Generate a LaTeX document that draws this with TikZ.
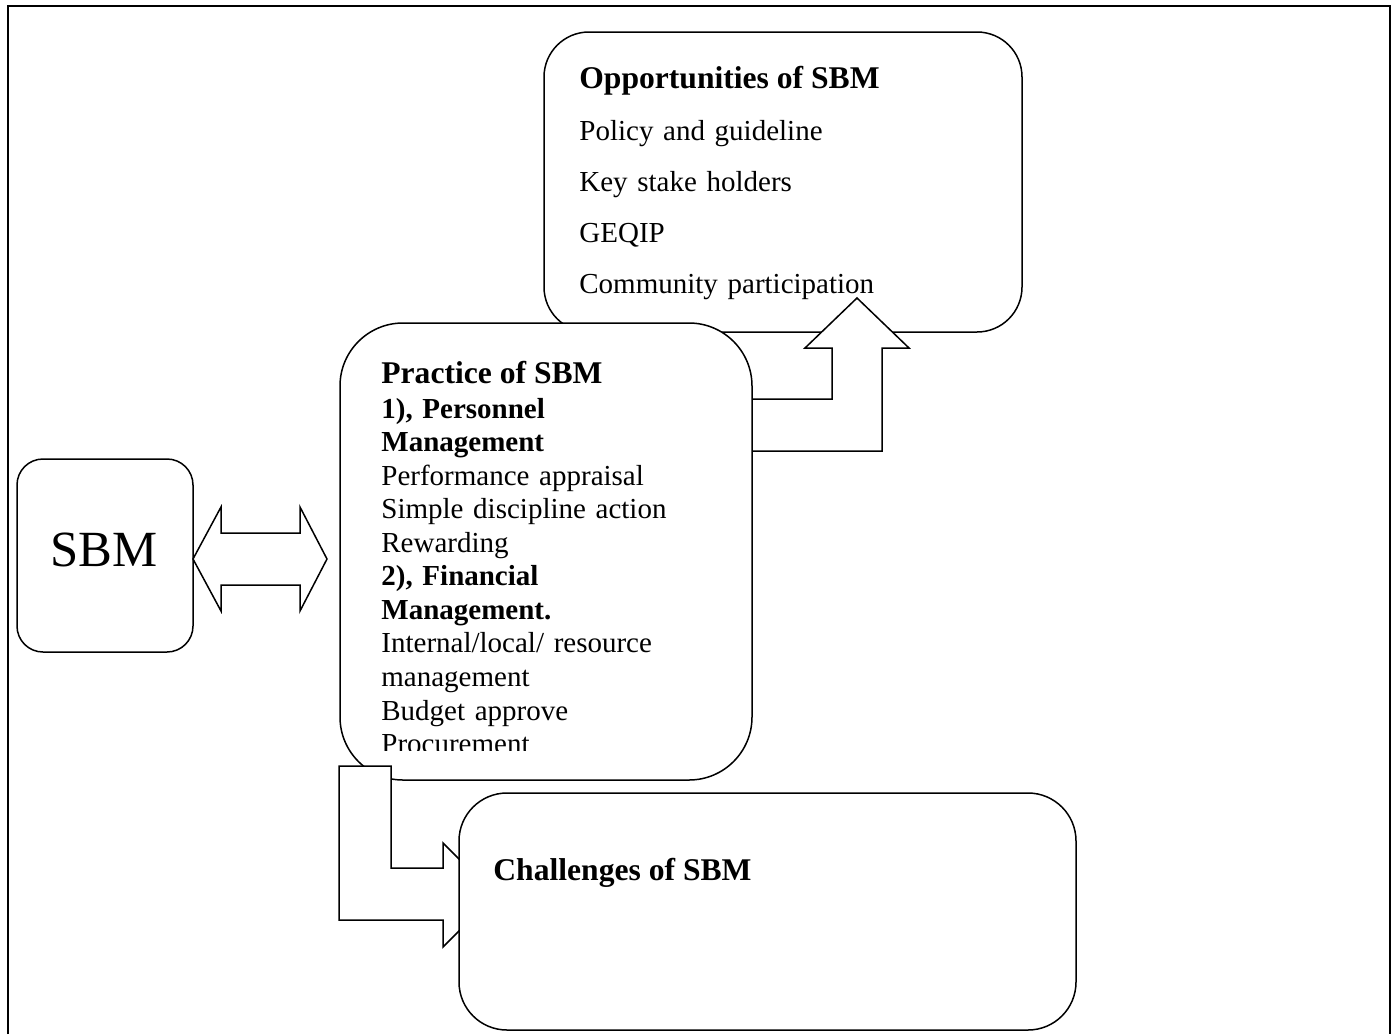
\documentclass[tikz,border=0pt]{standalone}
\usepackage{fontspec}
\setmainfont{Liberation Serif}
\begin{document}
\begin{tikzpicture}[x=0.5pt,y=-0.5pt,
    box/.style={draw,fill=white,line width=0.75pt,rounded corners=#1,inner sep=0pt},
    box/.default=22pt,
    blockarrow/.style={draw,fill=white,line width=0.75pt,line join=miter},
    head/.style={anchor=base west,inner sep=0pt,font=\fontsize{15.8}{18}\selectfont\bfseries},
    body/.style={anchor=base west,inner sep=0pt,text width=#1,align=left}]
    \useasboundingbox (0,0) rectangle (1397,1034);
    \draw[line width=1.3pt] (8,1034) -- (8,6) -- (1390,6) -- (1390,1034);

    % opportunities
    \node[box=22.5pt,minimum width=239pt,minimum height=150pt] (opp) at (783,182) {};
    \node[head] (opphead) at (579,88) {Opportunities of SBM};
    \node[body=220pt,font=\fontsize{14.5}{25.5}\selectfont] (opplist) at (579,140)
        {Policy and guideline\\Key stake holders\\GEQIP\\Community participation};

    % practice -> opportunities
    \draw[blockarrow] (740,399) -- (832,399) -- (832,348) -- (805,348) -- (857,298)
        -- (909,348) -- (882,348) -- (882,451) -- (740,451) -- cycle;

    % practice
    \node[box=31.5pt,minimum width=206pt,minimum height=228.5pt] (practice) at (546,551.5) {};
    \node[head] (practhead) at (381,383) {Practice of SBM};
    \begin{scope}
        \clip (340,323) rectangle (752,750);
        \node[body=180pt,font=\fontsize{14.5}{16.78}\selectfont] (practlist) at (381,418)
            {\textbf{1), Personnel}\\\textbf{Management}\\Performance appraisal\\
             Simple discipline action\\Rewarding\\\textbf{2), Financial}\\
             \textbf{Management.}\\Internal/local/ resource\\management\\
             Budget approve\\Procurement};
    \end{scope}

    % practice -> challenges
    \draw[blockarrow] (339,766) -- (391,766) -- (391,868) -- (443,868) -- (443,843)
        -- (495,895) -- (443,947) -- (443,920) -- (339,920) -- cycle;

    % challenges
    \node[box=24pt,minimum width=308.5pt,minimum height=118.5pt] (chall) at (767.5,911.5) {};
    \node[head] (challhead) at (493,880) {Challenges of SBM};

    % sbm
    \node[box=13pt,minimum width=88pt,minimum height=96.5pt] (sbm) at (105,555.5) {};
    \node[anchor=base,inner sep=0pt,font=\fontsize{25.35}{30}\selectfont] (sbmtext) at (104,566) {SBM};

    % sbm <-> practice
    \draw[blockarrow] (193,559) -- (221,507) -- (221,533) -- (300,533) -- (300,507)
        -- (327,559) -- (300,611) -- (300,585) -- (221,585) -- (221,611) -- cycle;
\end{tikzpicture}
\end{document}
